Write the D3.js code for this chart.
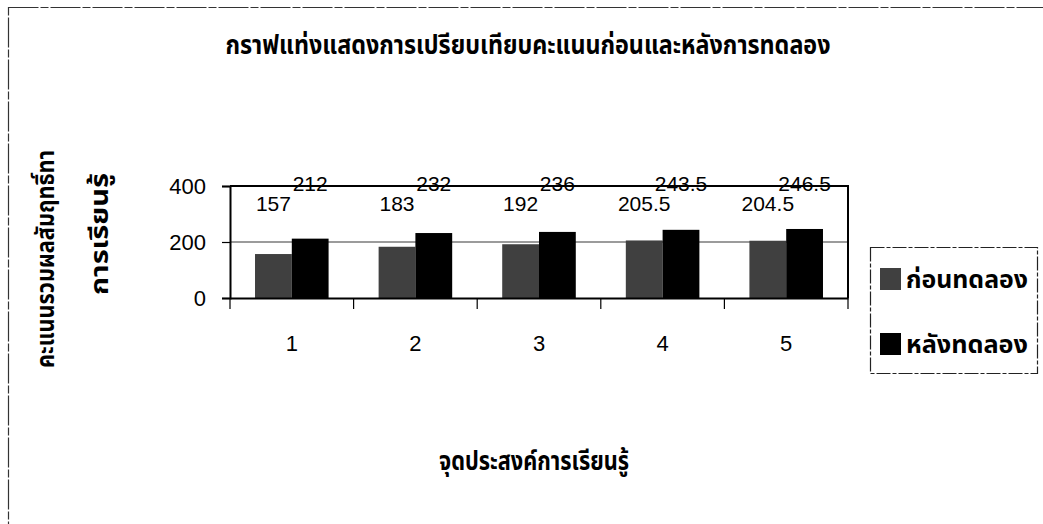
<!DOCTYPE html>
<html>
<head>
<meta charset="utf-8">
<script src="https://cdn.jsdelivr.net/npm/d3@7"></script>
<style>
  html, body { margin: 0; padding: 0; background: #fff; }
  svg { display: block; }
  .thai { font-family: "Noto Sans Thai", "Noto Sans Thai UI", "Loma", "Garuda", "Tlwg Typo", "Noto Sans", sans-serif; font-weight: bold; }
  .num { font-family: "Liberation Sans", Arial, sans-serif; }
</style>
</head>
<body>
<svg id="chart" width="1043" height="524"></svg>
<script>
// ---- data ----
const categories = ["1", "2", "3", "4", "5"];
const seriesNames = ["ก่อนทดลอง", "หลังทดลอง"];
const beforeValues = [157, 183, 192, 205.5, 204.5];
const afterValues = [212, 232, 236, 243.5, 246.5];
const yTickValues = [0, 200, 400];
const titleText = "กราฟแท่งแสดงการเปรียบเทียบคะแนนก่อนและหลังการทดลอง";
const yLabelLines = ["คะแนนรวมผลสัมฤทธิ์ทา", "การเรียนรู้"];
const xLabelText = "จุดประสงค์การเรียนรู้";

const series = [
  { name: seriesNames[0], values: beforeValues, color: "#404040" },
  { name: seriesNames[1], values: afterValues, color: "#000000" }
];

const svg = d3.select("#chart");

// outer chart frame
svg.append("rect").attr("x", 8.5).attr("y", 7.5).attr("width", 1100).attr("height", 600)
  .attr("fill", "none").attr("stroke", "#333").attr("stroke-width", 1.2).attr("stroke-dasharray", "30,2,8,2");

const plot = { left: 230, right: 848, top: 186, bottom: 298 };

const x = d3.scaleBand().domain(categories).range([plot.left, plot.right]).padding(0);
const xs = d3.scaleBand().domain(d3.range(series.length)).range([0, x.bandwidth()])
  .paddingInner(0).paddingOuter(0.68);
const y = d3.scaleLinear().domain([0, 400]).range([plot.bottom, plot.top]);

// gridline at 200
svg.append("g").selectAll("line").data(yTickValues.filter(v => v > 0 && v < 400)).join("line")
  .attr("x1", plot.left).attr("x2", plot.right)
  .attr("y1", d => y(d)).attr("y2", d => y(d))
  .attr("stroke", "#7a7a7a").attr("stroke-width", 1.5);

// bars
const groups = svg.append("g").selectAll("g").data(series).join("g")
  .attr("fill", d => d.color);
groups.each(function(s, si) {
  d3.select(this).selectAll("rect").data(s.values).join("rect")
    .attr("x", (d, i) => x(categories[i]) + xs(si))
    .attr("width", xs.bandwidth())
    .attr("y", d => y(d))
    .attr("height", d => y(0) - y(d));
});

// plot border (top and right)
svg.append("path")
  .attr("d", `M${plot.left},${y(400)}H${plot.right}V${y(0)}`)
  .attr("fill", "none").attr("stroke", "#000").attr("stroke-width", 2);

// y axis
const yAxis = svg.append("g").attr("transform", `translate(${plot.left},0)`)
  .call(d3.axisLeft(y).tickValues(yTickValues).tickSize(8).tickPadding(16).tickFormat(d3.format("d")));
yAxis.select(".domain").attr("stroke", "#000").attr("stroke-width", 2);
yAxis.selectAll(".tick line").attr("stroke", "#000").attr("stroke-width", 1.2);
yAxis.selectAll("text").attr("class", "num").attr("font-size", 22).attr("fill", "#000");

// x axis
const xAxis = svg.append("g").attr("transform", `translate(0,${plot.bottom})`)
  .call(d3.axisBottom(x).tickSize(0).tickPadding(37));
xAxis.select(".domain").attr("stroke", "#000").attr("stroke-width", 2);
xAxis.selectAll("text").attr("class", "num").attr("font-size", 22).attr("fill", "#000");
// tick marks at category boundaries
const boundaries = categories.map(c => x(c)).concat([x(categories[categories.length - 1]) + x.bandwidth()]);
xAxis.append("g").selectAll("line").data(boundaries).join("line")
  .attr("x1", d => d).attr("x2", d => d).attr("y1", 0).attr("y2", 11)
  .attr("stroke", "#000").attr("stroke-width", 1.2);

// value labels
const labelOffsets = [25, 5];
series.forEach((s, si) => {
  svg.append("g").selectAll("text").data(s.values).join("text")
    .attr("class", "num")
    .attr("x", (d, i) => x(categories[i]) + xs(si) + xs.bandwidth() / 2)
    .attr("y", y(400) + labelOffsets[si])
    .attr("text-anchor", "middle")
    .attr("font-size", 21)
    .attr("fill", "#000")
    .text(d => d);
});

// title
svg.append("text").attr("class", "thai")
  .attr("x", 528).attr("y", 54).attr("text-anchor", "middle")
  .attr("font-size", 26).attr("textLength", 605).attr("lengthAdjust", "spacingAndGlyphs")
  .text(titleText);

// x axis title
svg.append("text").attr("class", "thai")
  .attr("x", 534).attr("y", 470).attr("text-anchor", "middle")
  .attr("font-size", 26).attr("textLength", 190).attr("lengthAdjust", "spacingAndGlyphs")
  .text(xLabelText);

// y axis title (two lines)
const yLabelPos = [{ x: 54, y: 259, len: 218 }, { x: 108, y: 234, len: 122 }];
yLabelLines.forEach((t, i) => {
  svg.append("text").attr("class", "thai")
    .attr("transform", `translate(${yLabelPos[i].x},${yLabelPos[i].y}) rotate(-90)`)
    .attr("text-anchor", "middle")
    .attr("font-size", 24).attr("textLength", yLabelPos[i].len).attr("lengthAdjust", "spacingAndGlyphs")
    .text(t);
});

// legend
const legend = svg.append("g");
legend.append("rect").attr("x", 870.5).attr("y", 247.5).attr("width", 167).attr("height", 126)
  .attr("fill", "#fff").attr("stroke", "#222").attr("stroke-width", 1.2).attr("stroke-dasharray", "14,2,4,2");
const legendRows = [268, 333];
series.forEach((s, si) => {
  legend.append("rect").attr("x", 880).attr("y", legendRows[si]).attr("width", 21).attr("height", 22)
    .attr("fill", s.color);
  legend.append("text").attr("class", "thai")
    .attr("x", 906).attr("y", legendRows[si] + 20)
    .attr("font-size", 24).attr("textLength", 122).attr("lengthAdjust", "spacingAndGlyphs")
    .attr("fill", "#000")
    .text(s.name);
});
</script>
</body>
</html>
